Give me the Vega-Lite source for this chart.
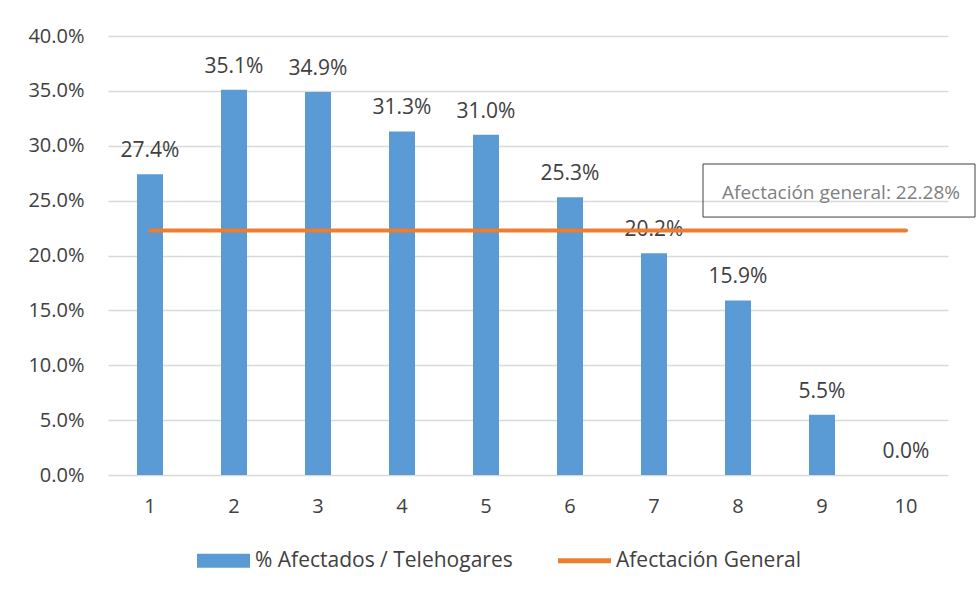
{
  "$schema": "https://vega.github.io/schema/vega-lite/v6.json",
  "width": 840,
  "height": 439,
  "autosize": {"type": "none"},
  "padding": {"left": 108, "top": 36, "right": 28, "bottom": 121},
  "background": "white",
  "config": {"view": {"stroke": null}, "font": "Open Sans"},
  "datasets": {
    "bars": [
      {"cat": 1, "pct": 0.274, "serie": "% Afectados / Telehogares"},
      {"cat": 2, "pct": 0.351, "serie": "% Afectados / Telehogares"},
      {"cat": 3, "pct": 0.349, "serie": "% Afectados / Telehogares"},
      {"cat": 4, "pct": 0.313, "serie": "% Afectados / Telehogares"},
      {"cat": 5, "pct": 0.310, "serie": "% Afectados / Telehogares"},
      {"cat": 6, "pct": 0.253, "serie": "% Afectados / Telehogares"},
      {"cat": 7, "pct": 0.202, "serie": "% Afectados / Telehogares"},
      {"cat": 8, "pct": 0.159, "serie": "% Afectados / Telehogares"},
      {"cat": 9, "pct": 0.055, "serie": "% Afectados / Telehogares"},
      {"cat": 10, "pct": 0.0, "serie": "% Afectados / Telehogares"}
    ],
    "general": [
      {"cat": 1, "pct": 0.2228, "serie": "Afectación General"},
      {"cat": 2, "pct": 0.2228, "serie": "Afectación General"},
      {"cat": 3, "pct": 0.2228, "serie": "Afectación General"},
      {"cat": 4, "pct": 0.2228, "serie": "Afectación General"},
      {"cat": 5, "pct": 0.2228, "serie": "Afectación General"},
      {"cat": 6, "pct": 0.2228, "serie": "Afectación General"},
      {"cat": 7, "pct": 0.2228, "serie": "Afectación General"},
      {"cat": 8, "pct": 0.2228, "serie": "Afectación General"},
      {"cat": 9, "pct": 0.2228, "serie": "Afectación General"},
      {"cat": 10, "pct": 0.2228, "serie": "Afectación General"}
    ],
    "note": [
      {"cat": 9, "pct": 0.2592, "label": "Afectación general: 22.28%"}
    ]
  },
  "encoding": {
    "x": {
      "field": "cat", "type": "ordinal", "title": null,
      "scale": {"paddingInner": 0, "paddingOuter": 0},
      "axis": {"labelAngle": 0, "domain": false, "ticks": false, "grid": false, "labelPadding": 21, "labelFontSize": 20, "labelColor": "#404040", "labelFont": "Open Sans"}
    },
    "y": {
      "field": "pct", "type": "quantitative", "title": null,
      "scale": {"domain": [0, 0.4], "nice": false},
      "axis": {"format": ".1%", "values": [0, 0.05, 0.1, 0.15, 0.2, 0.25, 0.3, 0.35, 0.4], "domain": false, "ticks": false, "gridColor": "#d9d9d9", "gridWidth": 1.3, "labelPadding": 24, "labelFontSize": 20, "labelColor": "#404040", "labelFont": "Open Sans"}
    }
  },
  "layer": [
    {
      "data": {"name": "bars"},
      "mark": {"type": "bar", "size": 26},
      "encoding": {
        "color": {
          "field": "serie", "type": "nominal",
          "scale": {"domain": ["% Afectados / Telehogares", "Afectación General"], "range": ["#5B9BD5", "#ED7D31"]},
          "legend": {
            "title": null, "orient": "none", "direction": "horizontal", "legendX": 89, "legendY": 498,
            "labelFontSize": 21, "labelColor": "#404040", "labelFont": "Open Sans", "labelOffset": 5, "labelLimit": 500,
            "columnPadding": 45, "symbolSize": 2809, "symbolStrokeWidth": 0,
            "symbolType": "M-1,-0.264H1V0.264H-1Z",
            "encode": {
              "symbols": {
                "update": {
                  "shape": {"signal": "datum.value == 'Afectación General' ? 'M-1,-0.094H1V0.094H-1Z' : 'M-1,-0.264H1V0.264H-1Z'"},
                  "fill": {"signal": "datum.value == 'Afectación General' ? '#ED7D31' : '#5B9BD5'"},
                  "strokeWidth": {"value": 0},
                  "opacity": {"value": 1}
                }
              }
            }
          }
        }
      }
    },
    {
      "data": {"name": "bars"},
      "mark": {"type": "text", "baseline": "alphabetic", "dy": -17, "fontSize": 21, "color": "#404040", "font": "Open Sans"},
      "encoding": {"text": {"field": "pct", "type": "quantitative", "format": ".1%"}}
    },
    {
      "data": {"name": "general"},
      "mark": {"type": "line", "strokeWidth": 4, "strokeCap": "round"},
      "encoding": {"color": {"field": "serie", "type": "nominal"}}
    },
    {
      "data": {"name": "note"},
      "mark": {"type": "point", "shape": "M-1,-0.195H1V0.195H-1Z", "size": 73984, "filled": false, "stroke": "#404040", "strokeWidth": 1, "opacity": 1, "xOffset": 17}
    },
    {
      "data": {"name": "note"},
      "mark": {"type": "text", "baseline": "middle", "align": "center", "dx": 19, "dy": 2, "fontSize": 19, "color": "#7f7f7f", "font": "Open Sans"},
      "encoding": {"text": {"field": "label"}}
    }
  ]
}
